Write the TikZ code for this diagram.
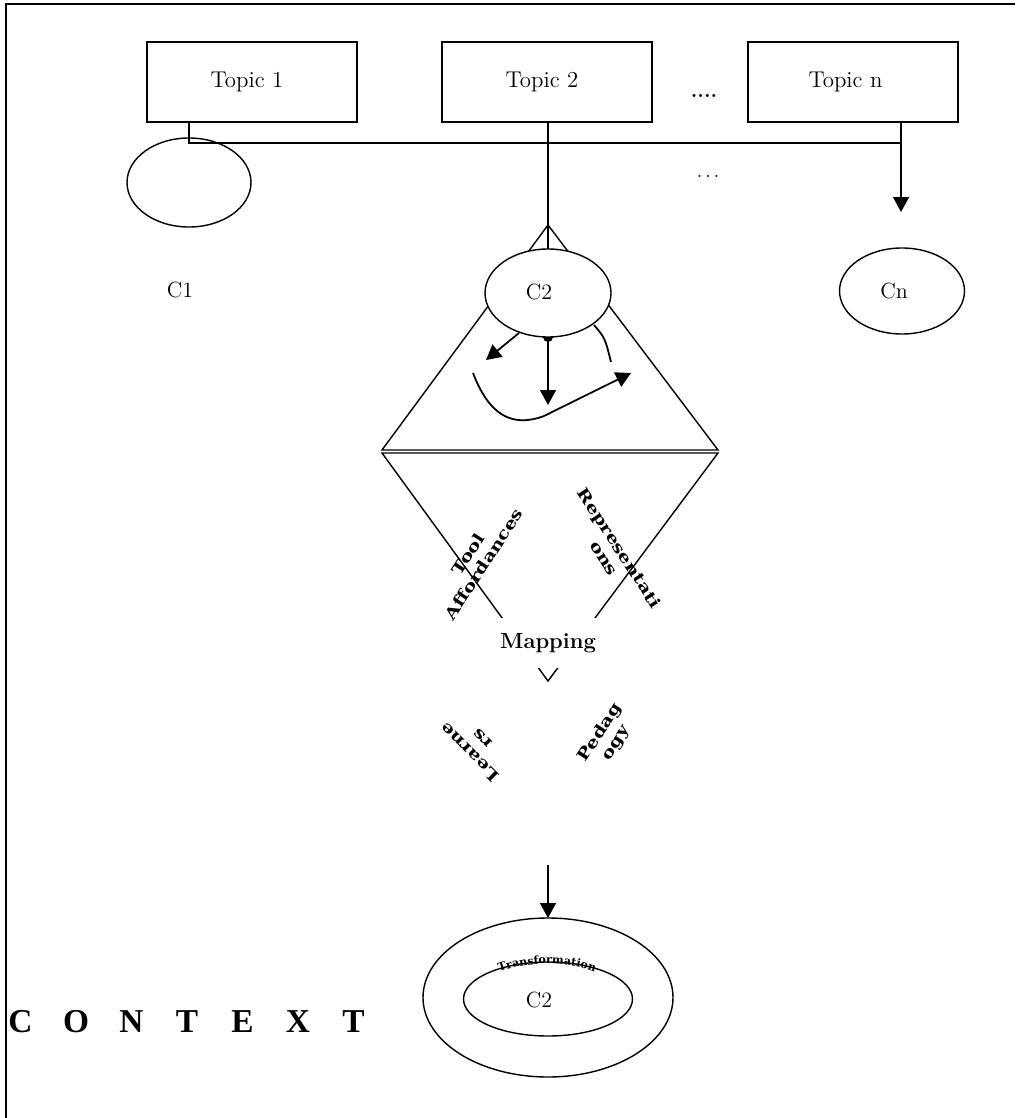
\documentclass[tikz,border=0pt]{standalone}
\usepackage{fontspec}
\newfontfamily\timesfont{Liberation Serif}
\newfontfamily\heavyfont{DejaVu Serif}
\usetikzlibrary{arrows.meta,shapes.geometric,decorations.text}
\newcommand{\pxu}{0.02cm}
\newcommand{\wdtxt}[1]{\scalebox{1.05}[0.85]{#1}}
\begin{document}
\begin{tikzpicture}[x=0.02cm,y=-0.02cm,
  topicbox/.style={draw,line width=1.6pt,minimum width=210*\pxu,minimum height=80*\pxu,inner sep=0pt,outer sep=0pt,font=\fontsize{13}{15}\selectfont},
  conn/.style={line width=1pt},
  thin line/.style={line width=0.8pt},
  ell/.style={draw,ellipse,line width=0.8pt,inner sep=0pt,outer sep=0pt},
  tipped/.style={-{Triangle[length=8.5pt,width=9pt]}},
  lbl/.style={font=\fontsize{12.5}{14}\selectfont,inner sep=0pt},
  rot/.style={font=\heavyfont\bfseries\fontsize{10.5}{10.5}\selectfont,align=center,inner sep=0pt},
]
\useasboundingbox (0,0) rectangle (1015,1118);
% frame
\coordinate (ftl) at (6,4); \coordinate (ftr) at (1015,4); \coordinate (fbl) at (6,1118);
\draw[line width=1.3pt] (ftr) -- (ftl) -- (fbl);
% topics
\node[topicbox] (t1) at (252,82) {Topic 1\hspace*{0.2cm}};
\node[topicbox] (t2) at (547,82) {Topic 2\hspace*{0.2cm}};
\node[topicbox] (tn) at (853,82) {Topic n\hspace*{0.3cm}};
\node[font=\fontsize{12}{14}\bfseries\selectfont,inner sep=0pt,anchor=base] (dotsa) at (704,98) {....};
\node[font=\fontsize{11}{12}\selectfont,inner sep=0pt,anchor=base] (dotsb) at (708,178) {$\ldots$};
% C1 and Cn
\node[ell,minimum width=124*\pxu,minimum height=89*\pxu] (c1) at (189,182.5) {};
\node[lbl] (c1l) at (180,290) {C1};
\node[ell,minimum width=125*\pxu,minimum height=86*\pxu] (cn) at (902,291) {};
\node[lbl] (cnl) at (894,291) {Cn};
% connectors from topics
\coordinate (j1) at (189,143);
\coordinate (jn) at (901,143);
\coordinate (cnarrow) at (901,212);
\draw[conn] (t1.south -| j1) -- (j1) -- (jn);
\draw[conn,tipped] (tn.south -| jn) -- (cnarrow);
% upper triangle
\coordinate (ta) at (548,225); \coordinate (tl) at (382,450); \coordinate (tr) at (718,450);
\draw[thin line] (ta) -- (tl) -- (tr) -- cycle;
\fill (548,337) circle[radius=0.1cm];
\node[ell,fill=white,minimum width=126*\pxu,minimum height=88*\pxu] (c2) at (548,293) {};
\node[lbl] (c2l) at (539,292) {C2};
\draw[conn] (t2.south -| c2.north) -- (c2.north);
% arrows inside triangle
\coordinate (a1s) at (519,333); \coordinate (a1e) at (486,360);
\coordinate (a2e) at (548,405);
\coordinate (a3s) at (473,373); \coordinate (a3e) at (631,373);
\coordinate (a4s) at (594,325); \coordinate (a4e) at (611,362);
\draw[conn,tipped] (a1s) -- (a1e);
\draw[conn,tipped] (c2.south) -- (a2e);
\draw[conn,tipped] (a3s) .. controls (489,415) and (512,428) .. (544,416) -- (a3e);
\draw[conn] (a4s) .. controls (605,338) .. (a4e);
% lower inverted triangle
\coordinate (bl) at (382,453); \coordinate (br) at (718,453); \coordinate (bv) at (548,681);
\draw[thin line] (bl) -- (br) -- (bv) -- cycle;
\node[fill=white,inner sep=0pt,minimum width=125*\pxu,minimum height=50*\pxu,font=\fontsize{12.5}{14}\bfseries\selectfont] (map) at (548,643) {Mapping};
% rotated labels
\node[rot,rotate=57] (tool) at (476,559) {\wdtxt{Tool}\\\wdtxt{Affordances}};
\node[rot,rotate=-57] (repr) at (612,553) {\wdtxt{Representati}\\\wdtxt{ons}};
\node[rot,rotate=135] (learn) at (476,746) {\wdtxt{Learne}\\\wdtxt{rs}};
\node[rot,rotate=57] (ped) at (608,738) {\wdtxt{Pedag}\\\wdtxt{ogy}};
% transformation
\coordinate (dstart) at (548,865);
\node[ell,minimum width=250*\pxu,minimum height=159*\pxu] (outer) at (548,997.5) {};
\node[ell,minimum width=169*\pxu,minimum height=74*\pxu] (inner) at (548,999) {};
\node[lbl] (c2b) at (539,1000) {C2};
\draw[conn,tipped] (dstart) -- (outer.north);
\path[decorate,decoration={text along path,text align=center,
  text={|\heavyfont\bfseries\fontsize{6.3}{7}\selectfont|Transformation}}]
  (492,975) .. controls (525,960) and (570,960) .. (602,975);
% context
\node[font=\timesfont\bfseries\fontsize{19}{22}\selectfont,inner sep=0pt,anchor=base] (ctx) at (187,1032)
  {\makebox[1.11cm]{C}\makebox[1.11cm]{O}\makebox[1.11cm]{N}\makebox[1.11cm]{T}\makebox[1.11cm]{E}\makebox[1.11cm]{X}\makebox[1.11cm]{T}};
\end{tikzpicture}
\end{document}
